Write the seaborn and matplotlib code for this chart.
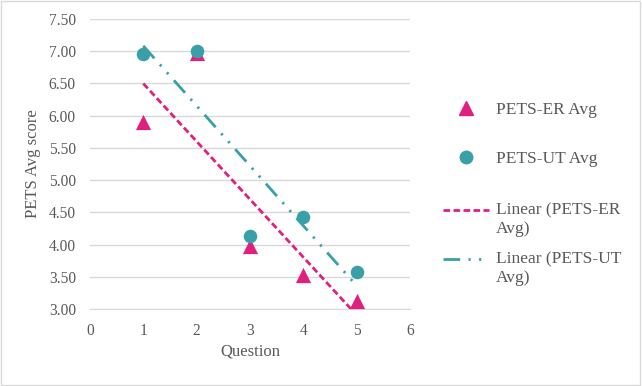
import numpy as np
import pandas as pd
import matplotlib
matplotlib.use('Agg')
import matplotlib.pyplot as plt
import seaborn as sns
from matplotlib.lines import Line2D
from matplotlib.legend_handler import HandlerLine2D

# dados
questions = [1, 2, 3, 4, 5]
er_avg = [5.90, 6.97, 3.98, 3.52, 3.13]
ut_avg = [6.95, 7.00, 4.14, 4.43, 3.58]

data = pd.DataFrame({'Question': questions, 'PETS-ER Avg': er_avg, 'PETS-UT Avg': ut_avg})

sns.set_style('white')
plt.rcParams['font.family'] = ['Liberation Serif', 'DejaVu Serif']

cor_er = '#E0207F'
cor_ut = '#38A0A6'
cinza = '#595959'
traco_er = (0, (2.4, 1.2))
traco_ut = (0, (6, 3, 0.8, 3, 0.8, 3))


# no Excel a linha da legenda fica alinhada com a primeira linha do texto
class HandlerSobe(HandlerLine2D):
    def create_artists(self, legend, orig_handle, xdescent, ydescent, width, height, fontsize, trans):
        artistas = super().create_artists(legend, orig_handle, xdescent, ydescent, width, height, fontsize, trans)
        for a in artistas:
            a.set_ydata(np.asarray(a.get_ydata()) + 7.2)
        return artistas


fig = plt.figure(figsize=(6.42, 3.86), dpi=100)
ax = fig.add_axes([0.140, 0.1995, 0.499, 0.7515])

# linhas de tendência (regressão linear)
sns.regplot(data=data, x='Question', y='PETS-ER Avg', scatter=False, ci=None, truncate=True, ax=ax,
            line_kws={'color': cor_er, 'lw': 2, 'linestyle': traco_er})
sns.regplot(data=data, x='Question', y='PETS-UT Avg', scatter=False, ci=None, truncate=True, ax=ax,
            line_kws={'color': cor_ut, 'lw': 2, 'linestyle': traco_ut})

sns.scatterplot(data=data, x='Question', y='PETS-ER Avg', marker='^', s=120, color=cor_er,
                edgecolor=cor_er, linewidth=0, ax=ax, zorder=3)
sns.scatterplot(data=data, x='Question', y='PETS-UT Avg', marker='o', s=95, color=cor_ut,
                edgecolor=cor_ut, linewidth=0, ax=ax, zorder=4)

ax.set_xlim(0, 6)
ax.set_ylim(3.0, 7.5)
ax.set_xticks(range(0, 7))
ax.set_yticks(np.arange(3.0, 7.51, 0.5))
ax.set_yticklabels([f'{v:.2f}' for v in np.arange(3.0, 7.51, 0.5)])
ax.yaxis.grid(True, color='#D9D9D9', lw=1)
ax.set_axisbelow(True)
for lado in ['top', 'right', 'left']:
    ax.spines[lado].set_visible(False)
ax.spines['bottom'].set_color('#D9D9D9')
ax.tick_params(axis='both', length=0, labelsize=11.2, colors=cinza)
ax.tick_params(axis='x', pad=10)
ax.tick_params(axis='y', pad=10)
ax.set_xlabel('Question', fontsize=12, color=cinza, labelpad=3)
ax.set_ylabel('PETS Avg score', fontsize=12, color=cinza, labelpad=6)

# legenda em dois blocos (espaçamento como no Excel)
h_pontos = [
    Line2D([], [], marker='^', color=cor_er, linestyle='none', markersize=10),
    Line2D([], [], marker='o', color=cor_ut, linestyle='none', markersize=9),
]
h_linhas = [
    Line2D([], [], color=cor_er, lw=2, linestyle=traco_er),
    Line2D([], [], color=cor_ut, lw=2, linestyle=traco_ut),
]
leg1 = fig.legend(h_pontos, ['PETS-ER Avg', 'PETS-UT Avg'], loc='upper left', bbox_to_anchor=(0.665, 0.776),
                  frameon=False, fontsize=12.5, labelcolor=cinza, handlelength=2.7, labelspacing=1.9,
                  handletextpad=0.35)
leg2 = fig.legend(h_linhas, ['Linear (PETS-ER\nAvg)', 'Linear (PETS-UT\nAvg)'], loc='upper left',
                  bbox_to_anchor=(0.665, 0.515), frameon=False, fontsize=12.5, labelcolor=cinza,
                  handlelength=2.7, labelspacing=0.82, handletextpad=0.35,
                  handler_map={Line2D: HandlerSobe()})
for t in leg2.get_texts():
    t.set_linespacing(1.2)

# moldura do gráfico
fig.patches.append(plt.Rectangle((0.002, 0.003), 0.995, 0.994, transform=fig.transFigure,
                                 fill=False, edgecolor='#D9D9D9', lw=1))

fig.savefig('out.png', dpi=100)
